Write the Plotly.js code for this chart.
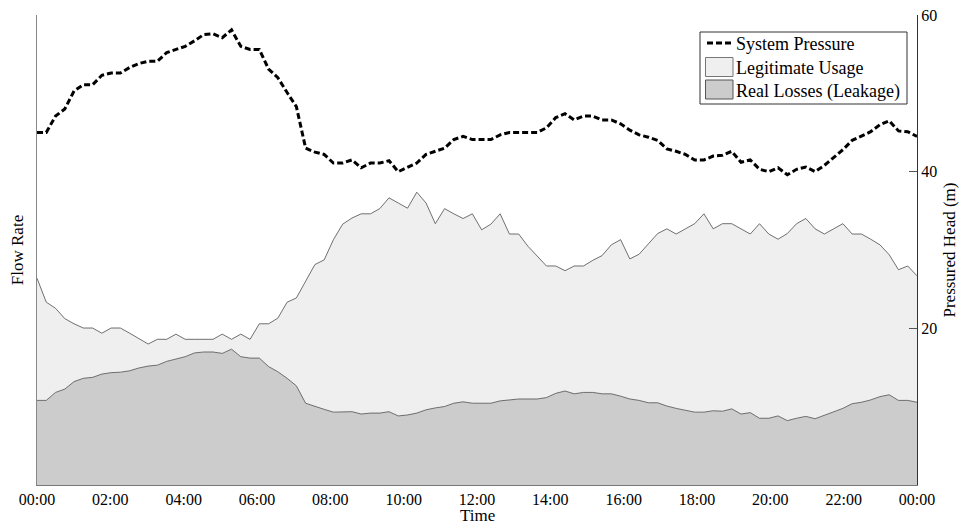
<!DOCTYPE html>
<html>
<head>
<meta charset="utf-8">
<script src="https://cdn.plot.ly/plotly-3.0.1.min.js"></script>
<style>html,body{margin:0;padding:0;background:#fff;}#chart{width:959px;height:523px;}</style>
</head>
<body>
<div id="chart"></div>
<script>
// Tick labels for the time axis (hours 0..24)
const tickHours = [0, 2, 4, 6, 8, 10, 12, 14, 16, 18, 20, 22, 24];
const tickLabels = ["00:00","02:00","04:00","06:00","08:00","10:00","12:00","14:00","16:00","18:00","20:00","22:00","00:00"];
const pressureTicks = [20, 40, 60];

// Series names (legend)
const seriesNames = ["System Pressure", "Legitimate Usage", "Real Losses (Leakage)"];

// Real losses (leakage) flow, bottom layer (96 samples over the day)
const leakage = [
  18.0,18.0,19.7,20.4,22.0,22.7,22.9,23.6,23.9,24.0,24.3,24.9,25.3,25.5,26.3,26.8,
  27.3,28.1,28.3,28.3,28.0,28.9,27.3,27.0,27.0,25.2,24.1,22.7,21.1,17.4,16.7,16.1,
  15.5,15.5,15.6,15.1,15.3,15.3,15.6,14.7,14.9,15.3,16.0,16.4,16.7,17.4,17.7,17.4,
  17.4,17.4,17.9,18.1,18.3,18.3,18.3,18.6,19.5,20.0,19.4,19.7,19.7,19.4,19.4,18.9,
  18.3,18.0,17.5,17.5,16.8,16.3,15.9,15.5,15.5,15.8,15.7,16.2,15.1,15.4,14.2,14.2,
  14.7,13.7,14.2,14.6,14.1,14.8,15.6,16.3,17.3,17.6,18.1,18.8,19.2,18.0,18.0,17.6
];

// Legitimate usage flow, stacked on top of leakage
const legitimate = [
  26.0,20.9,17.9,15.0,12.3,10.7,10.5,8.7,9.5,9.4,8.0,6.3,4.7,5.5,4.7,5.3,
  3.7,2.9,2.7,2.7,4.1,2.1,4.8,4.0,7.3,9.1,11.4,16.2,18.7,25.9,30.2,31.8,
  36.7,40.0,41.2,42.6,42.4,43.5,45.5,45.3,44.0,47.0,44.0,39.2,42.1,40.3,39.0,40.3,
  36.9,38.1,39.8,35.3,35.1,32.5,30.3,28.0,27.1,25.6,27.2,26.9,28.1,29.4,31.7,33.3,
  29.8,31.1,33.8,36.0,37.7,37.1,38.6,40.1,42.2,38.7,39.9,39.4,39.4,38.0,41.4,39.2,
  37.6,39.8,41.4,42.1,40.4,38.6,38.9,39.3,36.1,35.8,34.2,32.3,29.8,27.8,28.6,26.9
];

// System pressure head (m), right axis
const pressure = [
  45.0,45.0,47.1,48.0,50.3,51.1,51.1,52.3,52.6,52.6,53.3,53.8,54.1,54.1,55.2,55.6,
  56.0,56.7,57.5,57.6,57.1,58.1,56.0,55.6,55.6,53.1,52.0,50.1,48.3,43.0,42.5,42.2,
  41.1,41.1,41.5,40.5,41.1,41.1,41.4,40.0,40.5,41.1,42.2,42.6,43.0,44.1,44.5,44.1,
  44.1,44.1,44.7,45.0,45.0,45.0,45.0,45.6,46.9,47.4,46.6,47.1,47.1,46.6,46.6,46.1,
  45.3,44.7,44.4,44.0,42.9,42.6,42.2,41.5,41.5,42.0,42.1,42.6,41.2,41.5,40.3,40.0,
  40.5,39.6,40.3,40.6,40.0,40.8,41.8,42.8,44.0,44.5,45.1,46.0,46.5,45.2,45.1,44.5
];

// Sample times: evenly spaced samples spanning 00:00 to 24:00
const time = pressure.map((_, i) => i * 24 / (pressure.length - 1));

const serif = "'Liberation Serif', 'Times New Roman', serif";
const LEAK_FILL = "#cccccc", LEGIT_FILL = "#efefef", EDGE = "#4d4d4d";

const traces = [
  {
    x: time, y: leakage, name: seriesNames[2],
    type: "scatter", mode: "lines", stackgroup: "flow",
    line: {color: EDGE, width: 0.8}, fillcolor: LEAK_FILL, hoverinfo: "skip"
  },
  {
    x: time, y: legitimate, name: seriesNames[1],
    type: "scatter", mode: "lines", stackgroup: "flow",
    line: {color: EDGE, width: 0.8}, fillcolor: LEGIT_FILL, hoverinfo: "skip"
  },
  {
    x: time, y: pressure, name: seriesNames[0],
    type: "scatter", mode: "lines", yaxis: "y2",
    line: {color: "#000000", width: 3, dash: "6px,3px"}, hoverinfo: "skip"
  }
];

// Plot-area geometry (pixels) used to place the hand-drawn legend box
const M = {l: 37, r: 42, t: 15, b: 38};
const W = 959, H = 523;
const PW = W - M.l - M.r, PH = H - M.t - M.b;
const px = v => (v - M.l) / PW;
const py = v => (H - M.b - v) / PH;

const legendShapes = [
  {type: "rect", xref: "paper", yref: "paper", x0: px(700), x1: px(907), y0: py(104), y1: py(32),
   line: {color: "#333333", width: 1}, fillcolor: "#ffffff", layer: "above"},
  {type: "line", xref: "paper", yref: "paper", x0: px(707), x1: px(733), y0: py(43), y1: py(43),
   line: {color: "#000000", width: 3, dash: "6px,3px"}, layer: "above"},
  {type: "rect", xref: "paper", yref: "paper", x0: px(705.5), x1: px(733), y0: py(76.5), y1: py(57.5),
   line: {color: "#777777", width: 1}, fillcolor: LEGIT_FILL, layer: "above"},
  {type: "rect", xref: "paper", yref: "paper", x0: px(705.5), x1: px(733), y0: py(99), y1: py(80),
   line: {color: "#555555", width: 1}, fillcolor: LEAK_FILL, layer: "above"}
];
const legendText = [44, 68, 91].map((yy, k) => ({
  xref: "paper", yref: "paper", x: px(734), y: py(yy), xanchor: "left", yanchor: "middle",
  text: seriesNames[k], showarrow: false,
  font: {family: serif, size: 18, color: "#000000"}
}));
const timeTitle = {
  xref: "paper", yref: "paper", x: 0.5, y: py(515), xanchor: "center", yanchor: "middle",
  text: "Time", showarrow: false, font: {family: serif, size: 17, color: "#000000"}
};

const layout = {
  width: W, height: H,
  margin: {l: M.l, r: M.r, t: M.t, b: M.b, pad: 0},
  paper_bgcolor: "#ffffff", plot_bgcolor: "#ffffff",
  font: {family: serif, size: 16, color: "#000000"},
  showlegend: false,
  shapes: legendShapes,
  annotations: legendText.concat([timeTitle]),
  xaxis: {
    range: [0, 24], showgrid: false, zeroline: false,
    tickvals: tickHours, ticktext: tickLabels, ticks: "",
    showline: true, linecolor: "#777777", linewidth: 1,
    tickfont: {family: serif, size: 16, color: "#000000"}
  },
  xaxis2: {
    range: [0, 24], overlaying: "x", side: "top", showgrid: false, zeroline: false,
    tickvals: tickHours, ticks: "inside", ticklen: 8, tickcolor: "#555555",
    showticklabels: false, showline: true, linecolor: "#555555", linewidth: 1
  },
  yaxis: {
    range: [0, 100], showgrid: false, zeroline: false,
    showticklabels: false, ticks: "",
    showline: true, linecolor: "#888888", linewidth: 1,
    title: {text: "Flow Rate", font: {family: serif, size: 17, color: "#000000"}, standoff: 8}
  },
  yaxis2: {
    range: [0, 60], overlaying: "y", side: "right", showgrid: false, zeroline: false,
    tickvals: pressureTicks, ticks: "inside", ticklen: 8, tickcolor: "#555555",
    showline: true, linecolor: "#333333", linewidth: 1,
    tickfont: {family: serif, size: 16, color: "#000000"},
    title: {text: "Pressured Head (m)", font: {family: serif, size: 17, color: "#000000"}, standoff: 6}
  }
};

Plotly.newPlot("chart", traces, layout, {displayModeBar: false, staticPlot: true});
</script>
</body>
</html>
